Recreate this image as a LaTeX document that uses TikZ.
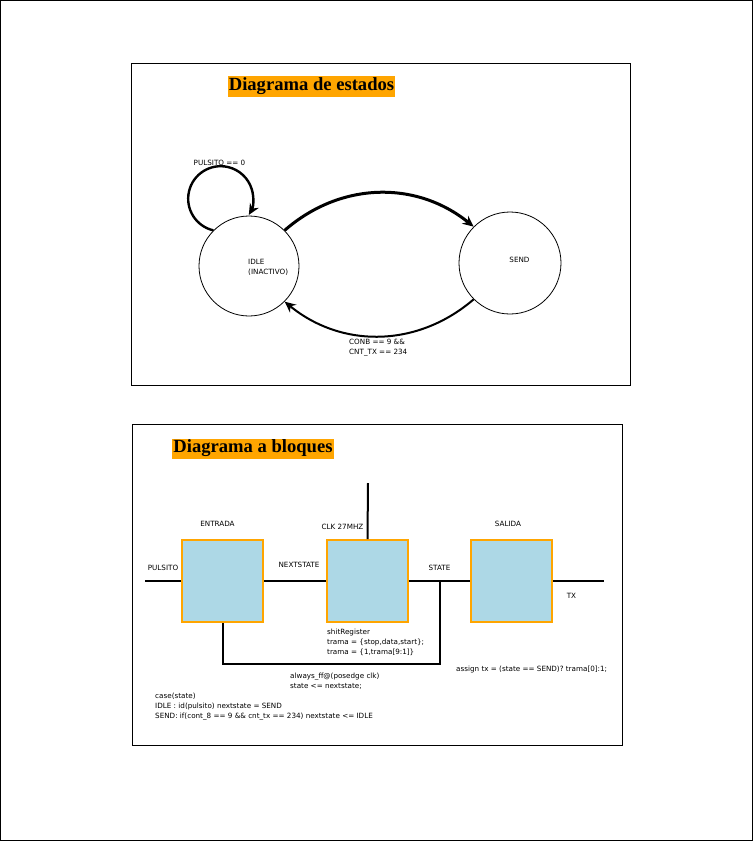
\documentclass[tikz,border=0pt]{standalone}
\usepackage{fontspec}
\setmainfont{DejaVu Sans}
\newfontfamily\ttlfont{Liberation Serif}
\usetikzlibrary{arrows.meta,positioning}
\definecolor{boxblue}{HTML}{ADD8E6}
\definecolor{hilite}{HTML}{FFA500}

\begin{document}
\begin{tikzpicture}[x=1pt, y=1pt,
      font=\fontsize{7.2}{10}\selectfont,
      ttl/.style={fill=hilite, inner xsep=1pt, inner ysep=1.5pt,
                  font=\ttlfont\bfseries\fontsize{18.6}{20}\selectfont},
      stnode/.style={draw, circle, line width=0.8pt, inner sep=0pt},
      blk/.style={draw=hilite, fill=boxblue, line width=2pt,
                  minimum width=81pt, minimum height=82pt, inner sep=0pt},
      wire/.style={line width=2pt},
      arr/.style={-{Stealth[length=11pt, width=10pt]}},
      lbl/.style={inner sep=0pt},
      code/.style={inner sep=0pt, align=left, anchor=north west}
    ]
    \useasboundingbox (0,0) rectangle (753,-841);
    \draw[line width=0.8pt] (0.5,-0.5) rectangle (752,-840);

    % state diagram
    \draw[line width=0.8pt] (131,-63) rectangle (630,-385);
    \node[ttl] (ttlstates) at (311.5,-86.5) {Diagrama de estados};

    \node[stnode, minimum size=100pt] (idle) at (249,-266) {};
    \node[stnode, minimum size=102pt] (send) at (510,-263) {};
    \node[code] (idlelbl) at (248,-259.5) {IDLE\\(INACTIVO)};
    \node[lbl] (sendlbl) at (519.5,-260) {SEND};

    \draw[arr, line width=2.4pt] (idle.135)
      arc[start angle=257, end angle=-30, radius=32.5];
    \node[lbl] (loopcond) at (219.5,-163) {PULSITO == 0};

    \draw[arr, line width=3pt] (idle.45) to[bend left=40] (send.135);
    \draw[arr, line width=2pt] (send.225) to[bend left=40] (idle.-45);
    \node[code] (backcond) at (349,-338.5) {CONB == 9 \&\&\\CNT\_TX == 234};

    % block diagram
    \draw[line width=0.8pt] (132,-424) rectangle (622,-745);
    \node[ttl] (ttlblocks) at (253,-448.5) {Diagrama a bloques};

    \node[blk] (entrada) at (222.5,-581) {};
    \node[blk, right=62pt of entrada] (reg) {};
    \node[blk, right=61pt of reg] (salida) {};

    \node[lbl, above=12pt of entrada, xshift=-5pt] (entradalbl) {ENTRADA};
    \node[lbl, above=12pt of salida, xshift=-3.5pt] (salidalbl) {SALIDA};
    \node[lbl] (clklbl) at (342.5,-527) {CLK 27MHZ};

    \coordinate (pin) at (145,-581);
    \coordinate (txout) at (604,-581);
    \coordinate (clk) at (368,-483);
    \coordinate (fb) at (440,-664);
    \coordinate (tap) at (440,-581);

    \draw[wire] (pin) -- (entrada.west);
    \draw[wire] (entrada.east) -- (reg.west);
    \draw[wire] (reg.east) -- (salida.west);
    \draw[wire] (salida.east) -- (txout);
    \draw[wire] (reg.north) -- (clk);
    \draw[wire] (entrada.south) |- (fb) -- (tap);

    \node[lbl] (pinlbl) at (163,-568) {PULSITO};
    \node[lbl] (nextlbl) at (299,-565) {NEXTSTATE};
    \node[lbl] (statelbl) at (439.5,-568) {STATE};
    \node[lbl] (txlbl) at (571.5,-596) {TX};

    % code notes
    \node[code] (regcode) at (327,-628.5)
      {shitRegister\\trama = \{stop,data,start\};\\trama = \{1,trama[9:1]\}};
    \node[code] (ffcode) at (290,-672.5)
      {always\_ff@(posedge clk)\\state <= nextstate;};
    \node[code] (txcode) at (456,-665.5)
      {assign tx = (state == SEND)? trama[0]:1;};
    \node[code] (casecode) at (155,-692.5)
      {case(state)\\IDLE : id(pulsito) nextstate = SEND\\SEND: if(cont\_8 == 9 \&\& cnt\_tx == 234) nextstate <= IDLE};
\end{tikzpicture}
\end{document}
